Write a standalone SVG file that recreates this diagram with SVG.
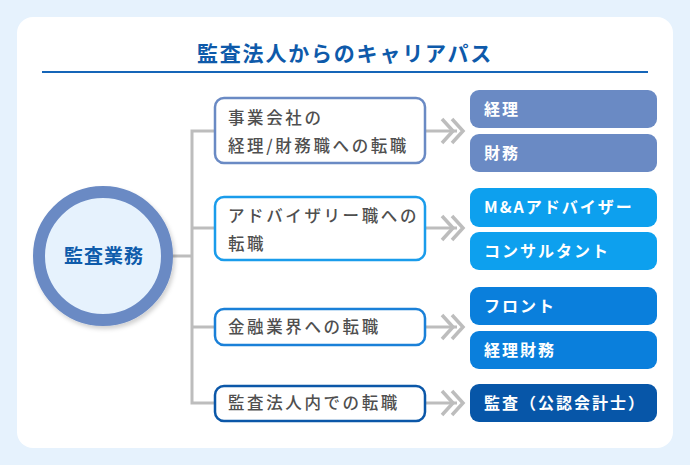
<svg xmlns="http://www.w3.org/2000/svg" width="690" height="465" viewBox="0 0 690 465">
<defs>
<filter id="sh" x="-20%" y="-20%" width="150%" height="150%">
<feDropShadow dx="2" dy="3" stdDeviation="2" flood-color="#000" flood-opacity="0.18"/>
</filter>
<style>
.jp{font-family:"Noto Sans CJK JP","Noto Sans",sans-serif;}
.lt{font-size:16.5px;fill:#4F4F4F;letter-spacing:2.6px;font-weight:500;}
.rt{font-size:16px;fill:#fff;font-weight:bold;letter-spacing:2px;}
.lb{fill:#fff;stroke-width:2.5;}
.conn{fill:none;stroke:#BDBDBD;stroke-width:3;}
.chev{fill:none;stroke:#BDBDBD;stroke-width:3.5;stroke-linejoin:miter;}
</style>
</defs>
<rect x="0" y="0" width="690" height="465" fill="#E6F2FD"/>
<rect x="17" y="17" width="656" height="431" rx="16" fill="#fff"/>
<text class="jp" x="345" y="61" text-anchor="middle" font-size="21" font-weight="bold" letter-spacing="1.8" fill="#0E5AAA">監査法人からのキャリアパス</text>
<line x1="42" y1="72" x2="648" y2="72" stroke="#1565B8" stroke-width="2"/>

<g id="connectors">
<path class="conn" d="M173 256H192M215 131H192V403H215M192 228H215M192 327H215"/>
<g>
<path class="conn" d="M425 131H457"/>
<polyline class="chev" points="442,119 453,131 442,143"/>
<polyline class="chev" points="452,119 463,131 452,143"/>
</g>
<g>
<path class="conn" d="M425 228H457"/>
<polyline class="chev" points="442,216 453,228 442,240"/>
<polyline class="chev" points="452,216 463,228 452,240"/>
</g>
<g>
<path class="conn" d="M425 327H457"/>
<polyline class="chev" points="442,315 453,327 442,339"/>
<polyline class="chev" points="452,315 463,327 452,339"/>
</g>
<g>
<path class="conn" d="M425 403H457"/>
<polyline class="chev" points="442,391 453,403 442,415"/>
<polyline class="chev" points="452,391 463,403 452,415"/>
</g>
</g>

<g id="root">
<circle cx="103" cy="256" r="64" fill="#E6F2FD" stroke="#6A8AC4" stroke-width="12" filter="url(#sh)"/>
<text class="jp" x="104" y="263" text-anchor="middle" font-size="19" font-weight="bold" letter-spacing="1" fill="#0F5CAB">監査業務</text>
</g>

<g id="path1">
<rect class="lb" x="215" y="98" width="210" height="65" rx="9" stroke="#6A8AC4"/>
<text class="jp lt" x="228" y="124">事業会社の</text>
<text class="jp lt" x="228" y="152">経理/財務職への転職</text>
</g>
<g id="path2">
<rect class="lb" x="215" y="197" width="210" height="63" rx="9" stroke="#1A9CEB"/>
<text class="jp lt" x="228" y="222">アドバイザリー職への</text>
<text class="jp lt" x="228" y="250">転職</text>
</g>
<g id="path3">
<rect class="lb" x="215" y="309" width="210" height="36" rx="9" stroke="#1A80D8"/>
<text class="jp lt" x="228" y="333">金融業界への転職</text>
</g>
<g id="path4">
<rect class="lb" x="215" y="386" width="210" height="35" rx="9" stroke="#0B57A8"/>
<text class="jp lt" x="228" y="409">監査法人内での転職</text>
</g>

<g id="r-keiri">
<rect x="470" y="90" width="187" height="38" rx="9" fill="#6A8AC4"/>
<text class="jp rt" x="484" y="115">経理</text>
</g>
<g id="r-zaimu">
<rect x="470" y="134" width="187" height="38" rx="9" fill="#6A8AC4"/>
<text class="jp rt" x="484" y="159">財務</text>
</g>
<g id="r-ma">
<rect x="470" y="188" width="187" height="39" rx="9" fill="#0DA0EE"/>
<text class="jp rt" x="484" y="213">M&amp;Aアドバイザー</text>
</g>
<g id="r-consul">
<rect x="470" y="232" width="187" height="38" rx="9" fill="#0DA0EE"/>
<text class="jp rt" x="484" y="257">コンサルタント</text>
</g>
<g id="r-front">
<rect x="470" y="287" width="187" height="38" rx="9" fill="#0A7FDC"/>
<text class="jp rt" x="484" y="312">フロント</text>
</g>
<g id="r-keirizaimu">
<rect x="470" y="331" width="187" height="38" rx="9" fill="#0A7FDC"/>
<text class="jp rt" x="484" y="356">経理財務</text>
</g>
<g id="r-kansa">
<rect x="470" y="384" width="187" height="38" rx="9" fill="#0756A8"/>
<text class="jp rt" x="484" y="409">監査（公認会計士）</text>
</g>
</svg>
